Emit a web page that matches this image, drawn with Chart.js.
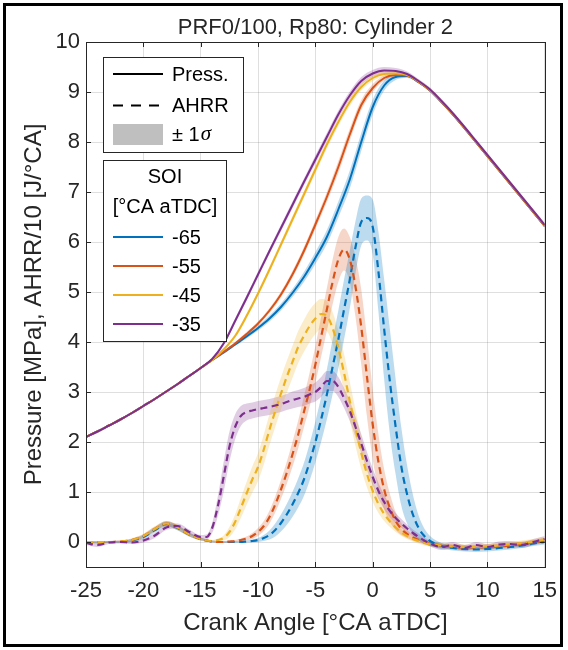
<!DOCTYPE html>
<html>
<head>
<meta charset="utf-8">
<script src="https://cdn.jsdelivr.net/npm/chart.js@4.4.1/dist/chart.umd.min.js"></script>
<style>
  html, body { margin: 0; padding: 0; background: #fff; overflow: hidden; }
  #wrap { width: 568px; height: 650px; }
</style>
</head>
<body>
<div id="wrap"><canvas id="c" width="568" height="650"></canvas></div>
<script>
/* data */
const soiLabels = ['-65', '-55', '-45', '-35'];
const xTicks = [-25, -20, -15, -10, -5, 0, 5, 10, 15];
const yTicks = [0, 1, 2, 3, 4, 5, 6, 7, 8, 9, 10];

// pressure [MPa], 1 degree steps
const pAngle = [-25,-24,-23,-22,-21,-20,-19,-18,-17,-16,-15,-14,-13,-12,-11,-10,-9,-8,-7,-6,-5,-4,-3,-2,-1,
  0,1,2,3,4,5,6,7,8,9,10,11,12,13,14,15];
const press65 = [2.10,2.21,2.33,2.45,2.58,2.72,2.86,3.01,3.16,3.32,3.48,3.64,
  3.79,3.95,4.11,4.28,4.47,4.70,4.98,5.30,5.68,6.10,6.65,7.25,8.00,
  8.70,9.13,9.30,9.32,9.20,9.03,8.80,8.55,8.28,8.00,7.72,7.44,7.16,6.88,6.60,6.32];
const press55 = [2.10,2.21,2.33,2.45,2.58,2.72,2.86,3.01,3.16,3.32,3.48,3.64,
  3.80,3.97,4.16,4.37,4.63,4.95,5.35,5.82,6.35,6.90,7.50,8.15,8.74,
  9.08,9.28,9.34,9.33,9.20,9.03,8.80,8.55,8.28,8.00,7.72,7.44,7.16,6.88,6.60,6.32];
const press45 = [2.10,2.21,2.33,2.45,2.58,2.72,2.86,3.01,3.16,3.32,3.48,3.64,
  3.85,4.12,4.52,4.97,5.45,5.95,6.45,6.95,7.45,7.95,8.40,8.80,9.10,
  9.28,9.36,9.37,9.34,9.21,9.04,8.81,8.56,8.29,8.01,7.73,7.45,7.17,6.89,6.61,6.33];
const press35 = [2.10,2.21,2.33,2.45,2.58,2.72,2.86,3.01,3.16,3.32,3.48,3.66,
  3.97,4.42,4.88,5.35,5.82,6.28,6.74,7.20,7.65,8.10,8.55,8.93,9.22,
  9.37,9.43,9.42,9.36,9.22,9.05,8.82,8.57,8.30,8.02,7.74,7.46,7.18,6.90,6.62,6.34];
const pSig65 = [0.02,0.02,0.02,0.02,0.02,0.02,0.02,0.02,0.02,0.02,0.02,0.02,
  0.03,0.03,0.04,0.05,0.06,0.07,0.08,0.10,0.12,0.14,0.16,0.18,0.18,
  0.15,0.10,0.06,0.04,0.03,0.03,0.03,0.03,0.03,0.03,0.03,0.03,0.03,0.03,0.03,0.03];
const pSig55 = [0.02,0.02,0.02,0.02,0.02,0.02,0.02,0.02,0.02,0.02,0.02,0.02,
  0.03,0.03,0.04,0.04,0.05,0.06,0.07,0.08,0.09,0.10,0.12,0.12,0.10,
  0.08,0.05,0.04,0.03,0.03,0.03,0.03,0.03,0.03,0.03,0.03,0.03,0.03,0.03,0.03,0.03];
const pSig45 = [0.02,0.02,0.02,0.02,0.02,0.02,0.02,0.02,0.02,0.02,0.02,0.02,
  0.03,0.04,0.05,0.05,0.06,0.06,0.07,0.07,0.08,0.08,0.08,0.08,0.07,
  0.06,0.05,0.04,0.03,0.03,0.03,0.03,0.03,0.03,0.03,0.03,0.03,0.03,0.03,0.03,0.03];
const pSig35 = [0.02,0.02,0.02,0.02,0.02,0.02,0.02,0.02,0.02,0.02,0.02,0.02,
  0.04,0.05,0.06,0.06,0.06,0.07,0.07,0.07,0.08,0.08,0.08,0.08,0.08,
  0.07,0.07,0.06,0.05,0.04,0.04,0.04,0.04,0.04,0.04,0.04,0.04,0.04,0.04,0.04,0.04];

// AHRR/10 [J/°CA], finer steps around combustion
const aAngle = [-25,-24,-23,-22,-21,-20,-19,-18,-17,-16,-15,
  -14.5,-14,-13.5,-13,-12.5,-12,-11.5,-11,-10.5,-10,
  -9.5,-9,-8.5,-8,-7.5,-7,-6.5,-6,-5.5,-5,
  -4.5,-4,-3.5,-3,-2.5,-2,-1.5,-1,-0.5,0,
  0.5,1,1.5,2,2.5,3,3.5,4,4.5,5,
  6,7,8,9,10,11,12,13,14,15];
const ahrr65 = [0.00,-0.01,0.00,0.00,0.03,0.10,0.24,0.36,0.28,0.15,0.06,
  0.03,0.01,0.00,0.00,0.00,0.00,0.00,0.01,0.02,0.04,
  0.08,0.14,0.24,0.38,0.55,0.75,0.98,1.25,1.60,2.00,
  2.45,2.95,3.50,4.05,4.65,5.25,5.90,6.40,6.48,6.30,
  5.40,4.25,3.20,2.30,1.50,0.95,0.55,0.28,0.12,0.02,
  -0.08,-0.12,-0.14,-0.15,-0.14,-0.12,-0.10,-0.07,-0.03,0.00];
const ahrr55 = [0.00,0.00,0.00,0.01,0.04,0.12,0.26,0.37,0.29,0.15,0.06,
  0.03,0.01,0.00,0.00,0.01,0.02,0.04,0.07,0.12,0.20,
  0.32,0.50,0.75,1.05,1.38,1.75,2.15,2.60,3.05,3.55,
  4.10,4.65,5.20,5.65,5.85,5.65,5.10,4.30,3.30,2.35,
  1.60,1.05,0.68,0.42,0.26,0.16,0.09,0.04,0.00,-0.03,
  -0.07,-0.10,-0.11,-0.11,-0.10,-0.09,-0.07,-0.04,-0.01,0.03];
const ahrr45 = [0.00,0.00,0.00,0.01,0.04,0.12,0.26,0.37,0.29,0.15,0.06,
  0.03,0.02,0.04,0.08,0.20,0.40,0.68,0.97,1.25,1.50,
  1.85,2.25,2.62,2.97,3.30,3.60,3.90,4.12,4.32,4.47,
  4.56,4.52,4.28,3.88,3.38,2.82,2.28,1.78,1.36,1.02,
  0.76,0.56,0.41,0.29,0.19,0.12,0.06,0.02,-0.02,-0.04,
  -0.07,-0.09,-0.10,-0.10,-0.09,-0.07,-0.05,-0.02,0.01,0.05];
const ahrr35 = [-0.02,-0.06,-0.01,0.00,-0.01,0.03,0.13,0.29,0.32,0.20,0.10,
  0.10,0.28,0.72,1.30,1.90,2.30,2.52,2.60,2.63,2.66,
  2.68,2.70,2.73,2.76,2.80,2.84,2.87,2.90,2.95,3.00,
  3.10,3.22,3.22,3.10,2.88,2.62,2.30,1.97,1.62,1.30,
  1.02,0.80,0.62,0.48,0.37,0.27,0.18,0.10,0.03,-0.03,
  -0.10,-0.06,-0.12,-0.06,-0.10,-0.05,-0.04,-0.06,0.00,0.06];
const aSig65 = [0.02,0.02,0.02,0.02,0.03,0.04,0.05,0.05,0.05,0.04,0.03,
  0.02,0.02,0.02,0.02,0.02,0.02,0.02,0.02,0.03,0.04,
  0.06,0.09,0.13,0.17,0.21,0.25,0.29,0.33,0.37,0.41,
  0.45,0.50,0.55,0.58,0.60,0.58,0.52,0.47,0.45,0.55,
  0.80,1.00,1.05,0.95,0.78,0.58,0.40,0.25,0.15,0.10,
  0.06,0.05,0.05,0.05,0.05,0.05,0.05,0.05,0.05,0.05];
const aSig55 = [0.02,0.02,0.02,0.02,0.03,0.04,0.05,0.05,0.05,0.04,0.03,
  0.02,0.02,0.02,0.02,0.02,0.02,0.03,0.04,0.06,0.08,
  0.10,0.13,0.16,0.19,0.22,0.25,0.28,0.31,0.34,0.37,
  0.40,0.43,0.45,0.45,0.42,0.45,0.60,0.75,0.80,0.70,
  0.55,0.40,0.28,0.18,0.12,0.08,0.06,0.05,0.05,0.05,
  0.05,0.05,0.05,0.05,0.05,0.05,0.05,0.05,0.05,0.05];
const aSig45 = [0.02,0.02,0.02,0.02,0.03,0.04,0.05,0.05,0.05,0.04,0.03,
  0.02,0.02,0.03,0.05,0.10,0.15,0.20,0.23,0.26,0.28,
  0.30,0.31,0.32,0.32,0.32,0.32,0.32,0.32,0.32,0.31,
  0.30,0.30,0.32,0.35,0.38,0.38,0.36,0.32,0.27,0.22,
  0.18,0.14,0.11,0.09,0.07,0.06,0.05,0.05,0.05,0.05,
  0.05,0.05,0.05,0.05,0.05,0.05,0.05,0.05,0.05,0.05];
const aSig35 = [0.04,0.04,0.03,0.03,0.03,0.04,0.05,0.05,0.05,0.05,0.04,
  0.05,0.10,0.20,0.30,0.30,0.25,0.20,0.17,0.16,0.16,
  0.16,0.16,0.16,0.16,0.16,0.17,0.17,0.18,0.18,0.19,
  0.20,0.20,0.20,0.20,0.20,0.20,0.20,0.19,0.18,0.17,
  0.16,0.14,0.12,0.10,0.09,0.08,0.07,0.07,0.06,0.06,
  0.06,0.06,0.06,0.06,0.06,0.06,0.06,0.06,0.06,0.06];

const lineColors = ['#0072BD', '#D95319', '#EDB120', '#7E2F8E'];
const bandColors = ['rgba(0,114,189,0.26)', 'rgba(217,83,25,0.24)', 'rgba(237,177,32,0.24)', 'rgba(126,47,142,0.24)'];
const pressAll = [press65, press55, press45, press35];
const pSigAll = [pSig65, pSig55, pSig45, pSig35];
const ahrrAll = [ahrr65, ahrr55, ahrr45, ahrr35];
const aSigAll = [aSig65, aSig55, aSig45, aSig35];

const FONT = '"Liberation Sans", Arial, Helvetica, sans-serif';
const TXT = '#262626';

function pts(xs, ys) {
  return xs.map((x, i) => ({ x: x, y: ys[i] }));
}
function edge(xs, ys, sig, sign) {
  return xs.map((x, i) => ({ x: x, y: ys[i] + sign * sig[i] }));
}

// build datasets: shaded ±1 sigma bands first, then lines (purple on top)
const datasets = [];
for (let i = 0; i < 4; i++) {
  datasets.push({ data: edge(pAngle, pressAll[i], pSigAll[i], -1), borderWidth: 0, borderColor: 'rgba(0,0,0,0)', fill: false, order: 50 });
  datasets.push({ data: edge(pAngle, pressAll[i], pSigAll[i], 1), borderWidth: 0, borderColor: 'rgba(0,0,0,0)', fill: '-1', backgroundColor: bandColors[i], order: 50 });
  datasets.push({ data: edge(aAngle, ahrrAll[i], aSigAll[i], -1), borderWidth: 0, borderColor: 'rgba(0,0,0,0)', fill: false, order: 50 });
  datasets.push({ data: edge(aAngle, ahrrAll[i], aSigAll[i], 1), borderWidth: 0, borderColor: 'rgba(0,0,0,0)', fill: '-1', backgroundColor: bandColors[i], order: 50 });
}
for (let i = 0; i < 4; i++) {
  datasets.push({ label: soiLabels[i] + ' press', data: pts(pAngle, pressAll[i]), borderColor: lineColors[i], borderWidth: 2, fill: false, order: 10 - 2 * i });
  datasets.push({ label: soiLabels[i] + ' ahrr', data: pts(aAngle, ahrrAll[i]), borderColor: lineColors[i], borderWidth: 2.2, borderDash: [7, 4.5], fill: false, order: 9 - 2 * i });
}

/*frame, title, inward ticks and the two legend boxes*/
const decorations = {
  id: 'decorations',
  afterDraw(chart) {
    const ctx = chart.ctx;
    const a = chart.chartArea;
    const xs = chart.scales.x, ys = chart.scales.y;
    ctx.save();

    // inward tick marks
    ctx.strokeStyle = TXT;
    ctx.lineWidth = 1;
    ctx.beginPath();
    xTicks.forEach(v => {
      const px = Math.round(xs.getPixelForValue(v)) + 0.5;
      ctx.moveTo(px, a.bottom); ctx.lineTo(px, a.bottom - 5);
      ctx.moveTo(px, a.top); ctx.lineTo(px, a.top + 5);
    });
    yTicks.forEach(v => {
      const py = Math.round(ys.getPixelForValue(v)) + 0.5;
      ctx.moveTo(a.left, py); ctx.lineTo(a.left + 5, py);
      ctx.moveTo(a.right, py); ctx.lineTo(a.right - 5, py);
    });
    ctx.stroke();
    ctx.strokeRect(Math.round(a.left) + 0.5, Math.round(a.top) + 0.5, Math.round(a.right - a.left), Math.round(a.bottom - a.top));

    // title
    ctx.fillStyle = TXT;
    ctx.font = '22px ' + FONT;
    ctx.textAlign = 'center';
    ctx.textBaseline = 'middle';
    ctx.fillText('PRF0/100, Rp80: Cylinder 2', (a.left + a.right) / 2, 28);

    // legend 1: line styles
    ctx.fillStyle = '#fff';
    ctx.fillRect(103, 57, 140, 95);
    ctx.strokeStyle = TXT;
    ctx.strokeRect(103.5, 57.5, 140, 95);
    ctx.strokeStyle = '#000';
    ctx.lineWidth = 2;
    ctx.beginPath(); ctx.moveTo(113, 74); ctx.lineTo(163, 74); ctx.stroke();
    ctx.setLineDash([10, 8]);
    ctx.beginPath(); ctx.moveTo(113, 105.5); ctx.lineTo(163, 105.5); ctx.stroke();
    ctx.setLineDash([]);
    ctx.fillStyle = '#bfbfbf';
    ctx.fillRect(113, 124, 50, 21);
    ctx.fillStyle = '#000';
    ctx.textAlign = 'left';
    ctx.font = '20px ' + FONT;
    ctx.fillText('Press.', 172, 75);
    ctx.fillText('AHRR', 172, 106);
    ctx.fillText('\u00b1 1', 172, 135);
    const w = ctx.measureText('\u00b1 1').width;
    ctx.font = 'italic 21px "Liberation Serif", "DejaVu Serif", serif';
    ctx.fillText('\u03c3', 172 + w + 1, 134);

    // legend 2: SOI colours
    ctx.fillStyle = '#fff';
    ctx.fillRect(103, 160, 123, 181);
    ctx.strokeStyle = TXT;
    ctx.lineWidth = 1;
    ctx.strokeRect(103.5, 160.5, 123, 181);
    ctx.fillStyle = '#000';
    ctx.font = '20px ' + FONT;
    ctx.textAlign = 'center';
    ctx.fillText('SOI', 165, 177);
    ctx.fillText('[\u00b0CA aTDC]', 165, 207);
    ctx.textAlign = 'left';
    const rows = [237, 266, 295, 324];
    soiLabels.forEach((lab, i) => {
      ctx.strokeStyle = lineColors[i];
      ctx.lineWidth = 2;
      ctx.beginPath(); ctx.moveTo(113, rows[i]); ctx.lineTo(163, rows[i]); ctx.stroke();
      ctx.fillText(lab, 172, rows[i] + 1);
    });

    // outer frame
    ctx.strokeStyle = '#000';
    ctx.lineWidth = 3;
    ctx.strokeRect(4.5, 4.5, 557, 641);
    ctx.restore();
  }
};

new Chart(document.getElementById('c'), {
  type: 'line',
  data: { datasets: datasets },
  options: {
    responsive: false,
    animation: false,
    layout: { padding: { top: 42, right: 20, left: 0, bottom: 0 } },
    plugins: { legend: { display: false }, tooltip: { enabled: false } },
    elements: {
      point: { radius: 0 },
      line: { cubicInterpolationMode: 'monotone', borderCapStyle: 'butt', borderJoinStyle: 'round' }
    },
    scales: {
      x: {
        type: 'linear', min: -25, max: 15,
        afterBuildTicks: s => { s.ticks = xTicks.map(v => ({ value: v })); },
        afterFit: s => { s.height = 83; },
        grid: { color: 'rgba(38,38,38,0.15)', drawTicks: false },
        border: { display: false },
        ticks: { color: TXT, font: { family: FONT, size: 22 }, padding: 11, maxRotation: 0, autoSkip: false },
        title: { display: true, text: 'Crank Angle [\u00b0CA aTDC]', color: TXT, font: { family: FONT, size: 24 }, padding: { bottom: 12 } }
      },
      y: {
        type: 'linear', min: -0.5, max: 10,
        afterBuildTicks: s => { s.ticks = yTicks.map(v => ({ value: v })); },
        afterFit: s => { s.width = 86; },
        grid: { color: 'rgba(38,38,38,0.15)', drawTicks: false },
        border: { display: false },
        ticks: { color: TXT, font: { family: FONT, size: 22 }, padding: 6, autoSkip: false },
        title: { display: true, text: 'Pressure [MPa], AHRR/10 [J/\u00b0CA]', color: TXT, font: { family: FONT, size: 24 }, padding: { top: 20 } }
      }
    }
  },
  plugins: [decorations]
});
</script>
</body>
</html>
